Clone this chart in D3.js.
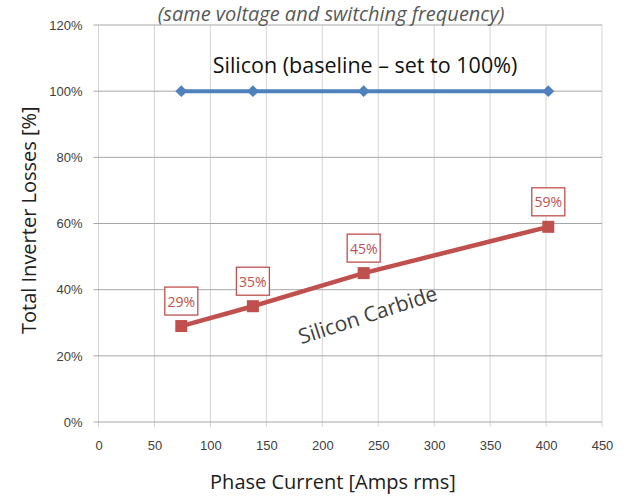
<!doctype html>
<html>
<head>
<meta charset="utf-8">
<style>
    body { margin: 0; background: #fff; }
    svg { font-family: "Open Sans", sans-serif; }
    .tick text { font-size: 13px; fill: #404040; }
</style>
<script src="https://d3js.org/d3.v7.min.js"></script>
</head>
<body>
<script>
    const currents = [74, 138, 237, 402]
    const silicon = [100, 100, 100, 100]
    const siliconCarbide = [29, 35, 45, 59]
    const xTicks = [0, 50, 100, 150, 200, 250, 300, 350, 400, 450]
    const yTicks = [0, 20, 40, 60, 80, 100, 120]

    const W = 640, H = 502
    const m = {left: 98.5, right: 38, top: 25, bottom: 80}

    const svg = d3.select('body').append('svg')
        .attr('width', W).attr('height', H)

    const x = d3.scaleLinear().domain([0, 450]).range([m.left, W - m.right])
    const y = d3.scaleLinear().domain([0, 120]).range([H - m.bottom, m.top])

    // vertical grid (light)
    svg.append('g').selectAll('line').data(xTicks).enter().append('line')
        .attr('x1', d => x(d)).attr('x2', d => x(d))
        .attr('y1', y(120)).attr('y2', y(0) + 5)
        .attr('stroke', '#d4d4d4').attr('stroke-width', 1)

    // horizontal grid (darker)
    svg.append('g').selectAll('line').data(yTicks).enter().append('line')
        .attr('x1', x(0) - 5).attr('x2', x(450))
        .attr('y1', d => y(d)).attr('y2', d => y(d))
        .attr('stroke', '#a6a6a6').attr('stroke-width', 1)

    const yAxis = svg.append('g')
        .attr('transform', `translate(${x(0)},0)`)
        .call(d3.axisLeft(y).tickValues(yTicks).tickFormat(d => d + '%').tickSize(0).tickPadding(16))
    yAxis.select('.domain').remove()

    const xAxis = svg.append('g')
        .attr('transform', `translate(0,${y(0)})`)
        .call(d3.axisBottom(x).tickValues(xTicks).tickSize(0).tickPadding(19))
    xAxis.select('.domain').remove()

    // titles
    svg.append('text')
        .attr('x', 333).attr('y', 489)
        .attr('text-anchor', 'middle')
        .style('font-size', '20px').style('fill', '#202020')
        .text('Phase Current [Amps rms]')

    svg.append('text')
        .attr('transform', `translate(36,${y(61)}) rotate(-90)`)
        .attr('text-anchor', 'middle')
        .style('font-size', '20px').style('fill', '#202020')
        .text('Total Inverter Losses [%]')

    svg.append('text')
        .attr('x', 331).attr('y', 21)
        .attr('text-anchor', 'middle')
        .style('font-size', '20px').style('font-style', 'italic').style('fill', '#595959')
        .text('(same voltage and switching frequency)')

    svg.append('text')
        .attr('x', 365).attr('y', 73)
        .attr('text-anchor', 'middle')
        .style('font-size', '21.5px').style('fill', '#111')
        .text('Silicon (baseline \u2013 set to 100%)')

    svg.append('text')
        .attr('transform', 'translate(370,322) rotate(-18)')
        .attr('text-anchor', 'middle')
        .style('font-size', '21px').style('fill', '#404040')
        .text('Silicon Carbide')

    const line = d3.line().x(d => x(d[0])).y(d => y(d[1]))
    const siData = currents.map((c, i) => [c, silicon[i]])
    const sicData = currents.map((c, i) => [c, siliconCarbide[i]])

    svg.append('path').datum(siData).attr('d', line)
        .attr('fill', 'none').attr('stroke', '#4f81bd').attr('stroke-width', 4)
    svg.append('g').selectAll('path').data(siData).enter().append('path')
        .attr('d', d3.symbol(d3.symbolDiamond2, 90))
        .attr('transform', d => `translate(${x(d[0])},${y(d[1])})`)
        .attr('fill', '#4f81bd')

    svg.append('path').datum(sicData).attr('d', line)
        .attr('fill', 'none').attr('stroke', '#c0504d').attr('stroke-width', 4.5)
    svg.append('g').selectAll('rect').data(sicData).enter().append('rect')
        .attr('x', d => x(d[0]) - 6).attr('y', d => y(d[1]) - 6)
        .attr('width', 12).attr('height', 12)
        .attr('fill', '#c0504d')

    // data labels
    const lbl = svg.append('g').selectAll('g').data(sicData).enter().append('g')
        .attr('transform', d => `translate(${x(d[0])},${y(d[1]) - 25})`)
    lbl.append('rect')
        .attr('x', -16.5).attr('y', -14).attr('width', 33).attr('height', 28)
        .attr('fill', '#fff').attr('stroke', '#c0504d').attr('stroke-width', 1.3)
    lbl.append('text')
        .attr('text-anchor', 'middle').attr('y', 5.5)
        .style('font-size', '14px').style('fill', '#c0504d')
        .text(d => d[1] + '%')
</script>
</body>
</html>
